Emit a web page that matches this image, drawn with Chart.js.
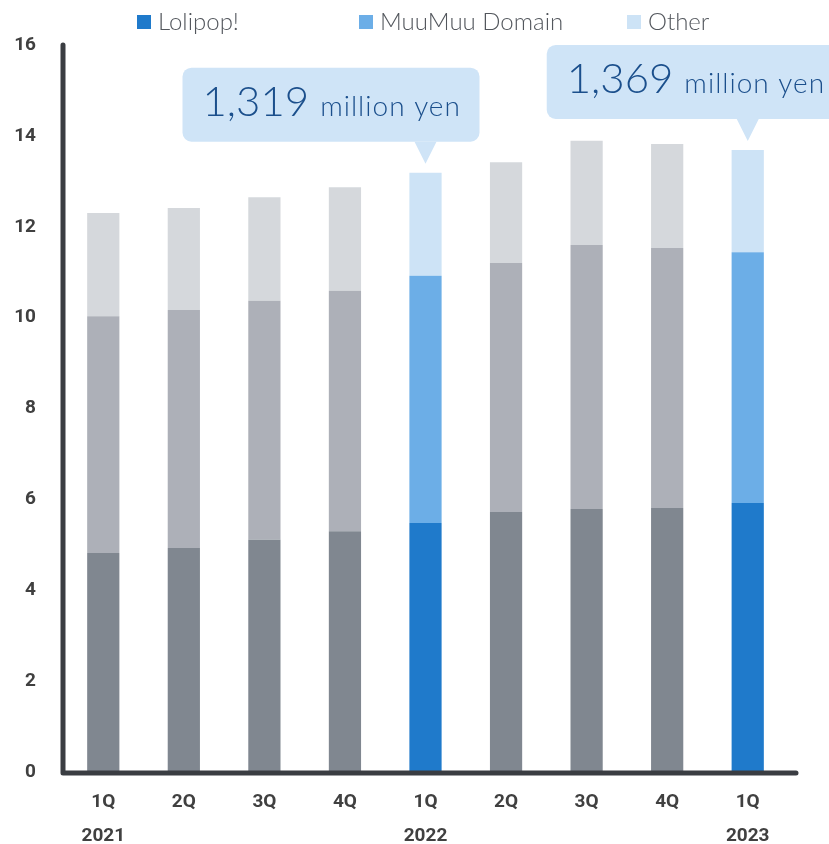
<!DOCTYPE html>
<html>
<head>
<meta charset="utf-8">
<script src="https://cdn.jsdelivr.net/npm/chart.js@4"></script>
<style>
  body { margin: 0; background: #fff; }
  #wrap { width: 829px; height: 844px; position: relative; }
</style>
</head>
<body>
<div id="wrap"><canvas id="chart"></canvas></div>
<script>
const quarters = ["1Q", "2Q", "3Q", "4Q", "1Q", "2Q", "3Q", "4Q", "1Q"];
const years = ["2021", "", "", "", "2022", "", "", "", "2023"];
const lolipop = [4.82, 4.93, 5.11, 5.30, 5.48, 5.72, 5.79, 5.81, 5.92];
const muumuu = [5.21, 5.24, 5.26, 5.29, 5.44, 5.48, 5.81, 5.72, 5.52];
const other = [2.27, 2.24, 2.28, 2.28, 2.27, 2.22, 2.29, 2.29, 2.25];
const highlight = [4, 8];
const calloutText = ["1,319", "1,369"];
const seriesNames = ["Lolipop!", "MuuMuu Domain", "Other"];

const blues = ["#1f7acb", "#6caee7", "#cde3f6"];
const greys = ["#808790", "#adb0b8", "#d5d8dc"];
const calloutShift = [-243, -201];
const legendX = [137, 359, 627];

function colorsFor(k) {
  return quarters.map((_, i) => (highlight.includes(i) ? blues[k] : greys[k]));
}

const decorations = {
  id: "decorations",
  afterDatasetsDraw(chart) {
    const { ctx, chartArea: a, scales } = chart;
    const x = scales.x;
    const y = scales.y;
    ctx.save();

    // axis lines
    ctx.strokeStyle = "#3a3d42";
    ctx.lineWidth = 5;
    ctx.lineCap = "round";
    ctx.lineJoin = "round";
    ctx.beginPath();
    ctx.moveTo(a.left, a.top);
    ctx.lineTo(a.left, a.bottom + 1);
    ctx.lineTo(a.right + 8, a.bottom + 1);
    ctx.stroke();

    // callouts
    highlight.forEach((i, k) => {
      const total = lolipop[i] + muumuu[i] + other[i];
      const cx = x.getPixelForValue(i);
      const tip = y.getPixelForValue(total) - 9;
      const bottom = tip - 22;
      const top = bottom - 74;
      const left = cx + calloutShift[k];
      ctx.fillStyle = "#cfe4f7";
      ctx.beginPath();
      ctx.roundRect(left, top, 297, 74, 9);
      ctx.fill();
      ctx.beginPath();
      ctx.moveTo(cx - 11, bottom);
      ctx.lineTo(cx + 11, bottom);
      ctx.lineTo(cx, tip);
      ctx.closePath();
      ctx.fill();

      ctx.fillStyle = "#1b4f8c";
      ctx.textBaseline = "alphabetic";
      ctx.textAlign = "left";
      ctx.font = "300 42px Lato";
      ctx.fillText(calloutText[k], left + 20, top + 48);
      const w = ctx.measureText(calloutText[k]).width;
      ctx.font = "300 28px Lato";
      ctx.letterSpacing = "1px";
      ctx.fillText("million yen", left + 20 + w + 11, top + 48);
      ctx.letterSpacing = "0px";
    });

    // legend
    ctx.font = "300 24px Lato";
    ctx.textBaseline = "middle";
    seriesNames.forEach((name, k) => {
      ctx.fillStyle = blues[k];
      ctx.fillRect(legendX[k], 15, 14, 14);
      ctx.fillStyle = "#53575d";
      ctx.fillText(name, legendX[k] + 21, 22);
    });
    ctx.restore();
  },
};

new Chart(document.getElementById("chart"), {
  type: "bar",
  data: {
    labels: quarters.map((q, i) => [q, years[i]]),
    datasets: [
      { label: seriesNames[0], data: lolipop, backgroundColor: colorsFor(0) },
      { label: seriesNames[1], data: muumuu, backgroundColor: colorsFor(1) },
      { label: seriesNames[2], data: other, backgroundColor: colorsFor(2) },
    ],
  },
  options: {
    responsive: true,
    maintainAspectRatio: false,
    animation: false,
    datasets: {
      bar: { barPercentage: 0.4, categoryPercentage: 1 },
    },
    layout: { padding: { top: 45, right: 41, left: 0, bottom: 0 } },
    plugins: {
      legend: { display: false },
      tooltip: { enabled: false },
    },
    scales: {
      x: {
        stacked: true,
        grid: { display: false, drawTicks: false },
        border: { display: false },
        ticks: {
          padding: 13,
          color: "#404040",
          font: { family: "Roboto", weight: "bold", size: 19, lineHeight: 1.8 },
        },
        afterFit: (s) => { s.height = 72; },
      },
      y: {
        stacked: true,
        min: 0,
        max: 16,
        grid: { display: false, drawTicks: false },
        border: { display: false },
        ticks: {
          stepSize: 2,
          padding: 27,
          color: "#404040",
          font: { family: "Roboto", weight: "bold", size: 19 },
        },
        afterFit: (s) => { s.width = 63; },
      },
    },
  },
  plugins: [decorations],
});
</script>
</body>
</html>
